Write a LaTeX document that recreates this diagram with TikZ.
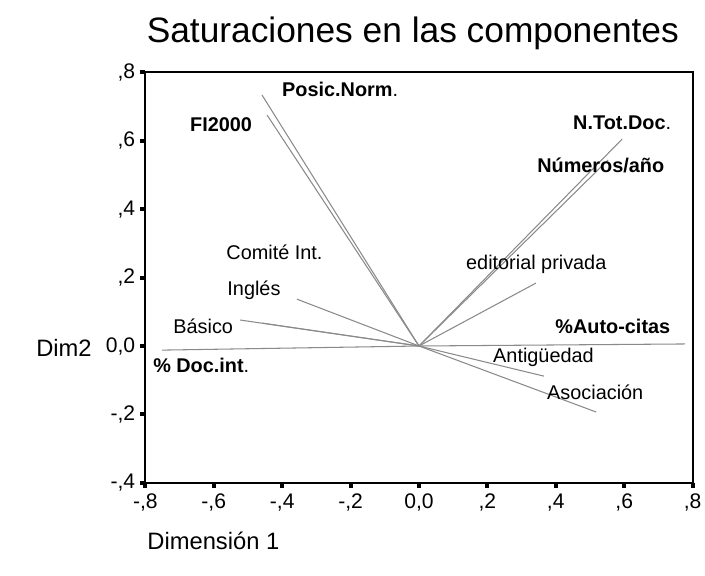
\documentclass[tikz,border=0pt]{standalone}
\usepackage{fontspec}
\setmainfont{Liberation Sans}
\usetikzlibrary{positioning}
\definecolor{loadgray}{HTML}{8A8A8A}
\tikzset{%
	loading/.style  = {draw=loadgray, line width=0.6pt}, % vector to a variable
	varlabel/.style = {anchor=west, inner sep=0pt, font=\fontsize{11.3}{13}\selectfont}, % variable name
	varbold/.style  = {varlabel, font=\fontsize{11.3}{13}\selectfont\bfseries}, % bold variable name
	ticklabel/.style = {inner sep=0pt, font=\fontsize{12}{14}\selectfont}, % axis numbers
	axtitle/.style  = {anchor=west, inner sep=0pt, font=\fontsize{13.5}{16}\selectfont}, % axis names
	plotframe/.style = {draw, line width=1.2pt}, % box round the plot
}

\begin{document}
\begin{tikzpicture}[x=6.84cm, y=6.84cm]
		\useasboundingbox (-1.2251,-0.6696) rectangle (0.8363,1.0117);
		\node[font=\fontsize{20.1}{24}\selectfont, inner sep=0pt] (title) at (-0.018,0.915) {Saturaciones en las componentes};
		% frame and ticks
		\draw[plotframe] (-0.8,-0.4) rectangle (0.8,0.8);
		\foreach \v/\t in {-0.4/{-,4}, -0.2/{-,2}, 0/{0,0}, 0.2/{,2}, 0.4/{,4}, 0.6/{,6}, 0.8/{,8}} {
			\fill (-0.815,\v-0.006) rectangle (-0.8,\v+0.006);
			\node[ticklabel, anchor=east] at (-0.829,\v) {\t};
		}
		\foreach \v/\t in {-0.8/{-,8}, -0.6/{-,6}, -0.4/{-,4}, -0.2/{-,2}, 0/{0,0}, 0.2/{,2}, 0.4/{,4}, 0.6/{,6}, 0.8/{,8}} {
			\fill (\v-0.006,-0.4) rectangle (\v+0.006,-0.415);
			\node[ticklabel, anchor=north] at (\v,-0.432) {\t};
		}
		\node[axtitle] (ydim) at (-1.12,-0.006) {Dim2};
		\node[axtitle] (xdim) at (-0.795,-0.570) {Dimensión 1};
		% loadings
		\coordinate (o) at (0,0);
		\coordinate (posnorm-e) at (-0.459,0.734);
		\coordinate (fi-e) at (-0.444,0.675);
		\coordinate (ntot-e) at (0.594,0.605);
		\coordinate (numeros-e) at (0.553,0.544);
		\coordinate (comite-e) at (-0.459,0.067);
		\coordinate (ingles-e) at (-0.357,0.137);
		\coordinate (basico-e) at (-0.523,0.076);
		\coordinate (docint-e) at (-0.751,-0.012);
		\coordinate (editorial-e) at (0.342,0.184);
		\coordinate (autocitas-e) at (0.778,0.006);
		\coordinate (antig-e) at (0.365,-0.088);
		\coordinate (asoc-e) at (0.518,-0.193);
		\draw[loading] (o) -- (posnorm-e);
		\draw[loading] (o) -- (fi-e);
		\draw[loading] (o) -- (ntot-e);
		\draw[loading] (o) -- (numeros-e);
		\draw[loading] (o) -- (comite-e);
		\draw[loading] (o) -- (ingles-e);
		\draw[loading] (o) -- (basico-e);
		\draw[loading] (o) -- (docint-e);
		\draw[loading] (o) -- (editorial-e);
		\draw[loading] (o) -- (autocitas-e);
		\draw[loading] (o) -- (antig-e);
		\draw[loading] (o) -- (asoc-e);
		% variable names
		\node[varbold] (posnorm) at (-0.401,0.749) {Posic.Norm\mdseries.};
		\node[varbold] (fi) at (-0.670,0.646) {FI2000};
		\node[varbold] (ntot) at (0.450,0.652) {N.Tot.Doc\mdseries.};
		\node[varbold] (numeros) at (0.345,0.529) {Números/año};
		\node[varlabel] (comite) at (-0.564,0.275) {Comité Int.};
		\node[varlabel] (editorial) at (0.137,0.240) {editorial privada};
		\node[varlabel] (ingles) at (-0.561,0.164) {Inglés};
		\node[varlabel] (basico) at (-0.719,0.058) {Básico};
		\node[varbold] (autocitas) at (0.398,0.056) {\%Auto-citas};
		\node[varbold] (docint) at (-0.778,-0.056) {\% Doc.int\mdseries.};
		\node[varlabel] (antig) at (0.216,-0.032) {Antigüedad};
		\node[varlabel] (asoc) at (0.374,-0.135) {Asociación};
\end{tikzpicture}
\end{document}
